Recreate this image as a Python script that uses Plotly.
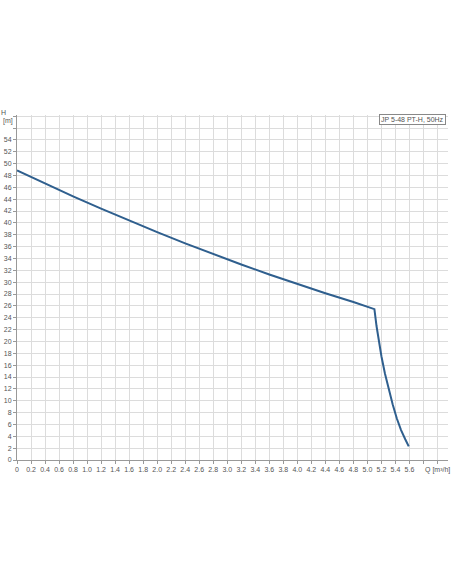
import plotly.graph_objects as go

# Data
flow_q = [0, 0.4, 0.8, 1.2, 1.6, 2.0, 2.4, 2.8, 3.2, 3.6, 4.0, 4.4, 4.8, 5.1,
          5.13, 5.16, 5.20, 5.25, 5.30, 5.36, 5.42, 5.48, 5.54, 5.59]
head_h = [48.85, 46.63, 44.48, 42.40, 40.38, 38.43, 36.55, 34.73, 32.98, 31.30,
          29.68, 28.13, 26.65, 25.45, 22.6, 20.3, 17.5, 14.6, 12.1, 9.4, 7.0, 5.05, 3.5, 2.3]

x_tick_vals = [round(i * 0.2, 1) for i in range(31)]
x_tick_text = ["0"] + [f"{v:.1f}" for v in x_tick_vals[1:29]] + ["", ""]
y_tick_vals = list(range(0, 60, 2))
y_tick_text = [str(v) for v in range(0, 56, 2)] + ["", ""]

curve_name = "JP 5-48 PT-H, 50Hz"

fig = go.Figure()
fig.add_trace(go.Scatter(x=flow_q, y=head_h, mode="lines",
                         line=dict(color="#2f5f8e", width=2),
                         name=curve_name, showlegend=False, hoverinfo="x+y"))

tick_font = dict(family="Liberation Sans, Arial, sans-serif", size=7, color="#555")

fig.update_layout(
    width=452, height=584,
    margin=dict(l=17, r=4, t=115, b=124, autoexpand=False),
    paper_bgcolor="white", plot_bgcolor="white",
    xaxis=dict(range=[0, 6.15], tickmode="array", tickvals=x_tick_vals, ticktext=x_tick_text,
               showgrid=True, gridcolor="#dcdcdc", gridwidth=1, zeroline=False,
               showline=True, linecolor="#999", linewidth=1, automargin=False,
               ticks="outside", ticklen=3, tickcolor="#999", tickfont=tick_font),
    yaxis=dict(range=[0, 58.2], tickmode="array", tickvals=y_tick_vals, ticktext=y_tick_text,
               showgrid=True, gridcolor="#dcdcdc", gridwidth=1, zeroline=False,
               showline=True, linecolor="#999", linewidth=1, automargin=False,
               ticks="outside", ticklen=3, tickcolor="#999", tickfont=tick_font),
    annotations=[
        dict(text="H", xref="paper", yref="paper", x=-0.021, y=1.006, xanchor="right",
             yanchor="middle", showarrow=False, font=tick_font),
        dict(text="[m]", xref="paper", yref="paper", x=-0.004, y=0.983, xanchor="right",
             yanchor="middle", showarrow=False, font=tick_font),
        dict(text="Q [m³/h]", xref="x", yref="paper", x=6.0, y=-0.012, xanchor="center",
             yanchor="top", showarrow=False, font=tick_font),
        dict(text=curve_name, xref="paper", yref="paper", x=0.995, y=1.004, xanchor="right",
             yanchor="top", showarrow=False, font=tick_font, bgcolor="white",
             bordercolor="#888", borderwidth=1, borderpad=1),
    ],
)

fig.write_html("out.html", config={"displayModeBar": False},
               post_script="document.body.style.margin='0';document.body.style.padding='0';")
